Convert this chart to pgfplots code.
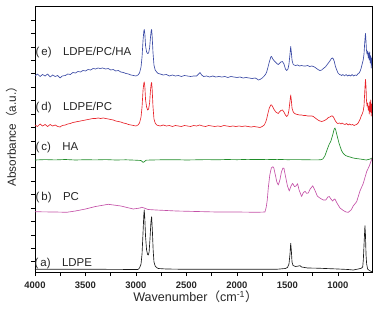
\documentclass[border=0pt]{standalone}
\usepackage{fontspec}
\setmainfont{Liberation Sans}
\newfontfamily\cjk{Noto Sans CJK SC}
\usepackage{pgfplots}
\pgfplotsset{compat=1.18}
\definecolor{cE}{RGB}{58,74,165}
\definecolor{cD}{RGB}{232,35,42}
\definecolor{cC}{RGB}{30,140,40}
\definecolor{cB}{RGB}{196,82,168}
\definecolor{cA}{RGB}{26,26,26}
\begin{document}
\begin{tikzpicture}[x=1bp,y=1bp]
\path[use as bounding box] (0,0) rectangle (379,310);
\begin{axis}[
  at={(35bp,38bp)}, anchor=south west,
  width=337bp, height=265.3bp, scale only axis,
  xmin=663, xmax=4000, x dir=reverse,
  ymin=0, ymax=265.3,
  xtick={1000,1500,...,4000}, minor xtick={750,1250,...,3750},
  ytick={10.3,23.73,...,255}, yticklabels={},
  tick align=outside, tick pos=left,
  major tick length=4bp, minor tick length=4bp,
  axis line style={line width=0.6bp, black},
  every tick/.style={line width=0.6bp, black},
  /pgf/number format/assume math mode=true,
  /pgf/number format/1000 sep={},
  xticklabel style={font=\fontsize{9.5}{10}\selectfont\bfseries, text=black!85, anchor=base, yshift=-12.8bp},
  xlabel={Wavenumber{\cjk （}cm\textsuperscript{-1}{\cjk ）}},
  ylabel={Absorbance{\cjk （}a.u.{\cjk ）}},
  xlabel style={at={(axis description cs:0.4763,-0.1112)}, anchor=base, font=\fontsize{12.6}{13}\selectfont, text=black!85},
  ylabel style={at={(axis description cs:-0.0564,0.309)}, anchor=base west, rotate=0, font=\fontsize{11.8}{12}\selectfont, text=black!85},
  every axis plot/.append style={line width=0.65bp, line join=round},
]
% (e) LDPE/PC/HA
\addplot[cE] coordinates {
(4000,196)(3975,198)(3950,195.5)(3925,197.5)(3900,196)(3875,198)(3850,195)(3825,197)(3800,195.5)(3775,196.5)(3752,194)(3730,196)(3700,196.5)(3675,198)(3650,197.5)(3625,199.5)(3600,199)(3575,200.5)(3550,200)(3525,201.5)(3500,201)(3475,202.5)(3450,202)(3425,203.5)(3400,203)(3375,204)(3356,203.5)(3330,204)(3300,203)(3275,203.5)(3250,202)(3225,202.5)(3200,201)(3175,201.5)(3150,200)(3125,199.5)(3100,198.5)(3075,198)(3050,197)(3025,196.5)(3000,196)(2980,197)(2965,199)(2950,205)(2940,215)(2930,232)(2922,241)(2918,242.5)(2912,238)(2905,226)(2895,220)(2885,218.5)(2875,219)(2865,224)(2857,234)(2850,241)(2845,242.5)(2840,236)(2832,220)(2822,207)(2810,202)(2795,200)(2780,198.5)(2760,198)(2730,197)(2700,197.5)(2670,196)(2640,197)(2610,196)(2580,196.5)(2550,195.5)(2520,196.5)(2490,196)(2460,195.5)(2430,196)(2400,196)(2380,198)(2366,199.5)(2350,197)(2330,195.5)(2300,196)(2270,195)(2240,196)(2210,195)(2180,195.5)(2150,195)(2120,195.5)(2090,194.5)(2060,195.5)(2030,195)(2000,194.5)(1970,195)(1940,194)(1910,194.5)(1880,194)(1850,193.5)(1820,194)(1800,193)(1789,192)(1772,192.5)(1750,194)(1730,196)(1715,198)(1706,200)(1695,204)(1680,210)(1665,215)(1657,215.5)(1645,213)(1630,211)(1615,209.5)(1600,208)(1591,207.5)(1580,208.5)(1565,210)(1550,210.5)(1535,208)(1520,203)(1508,201.5)(1495,203)(1485,208)(1475,218)(1468,225.5)(1462,220)(1455,212)(1445,208)(1435,207)(1420,206.5)(1400,207)(1380,206)(1360,206.5)(1340,206)(1320,206)(1300,206.5)(1280,205.5)(1260,206)(1244,205.5)(1225,204.5)(1205,203)(1190,202)(1178,201.5)(1161,202)(1145,203.5)(1125,205)(1110,207)(1095,209)(1080,211)(1065,213.5)(1055,214)(1045,213)(1035,210)(1025,205.5)(1010,201.5)(1000,199)(985,197.5)(970,197)(963,196.5)(950,197.5)(935,196)(920,197.5)(905,196)(890,197)(875,196)(860,197.5)(845,196)(830,197)(815,196.5)(800,198.5)(790,199)(780,201)(770,204)(760,208)(750,212)(742,218)(736,228)(730,236)(727,238.5)(722,230)(718,222)(712,218)(706,221)(700,214)(695,219)(690,212)(685,220)(680,209)(675,216)(670,204)(665,214)(663,210)
};
% (d) LDPE/PC
\addplot[cD] coordinates {
(4000,147)(3975,145.5)(3950,148)(3925,146)(3900,147.5)(3875,145.5)(3850,147.5)(3825,146)(3800,147)(3775,145.5)(3752,145)(3730,146.5)(3700,147)(3675,148)(3650,148.5)(3625,149.5)(3600,150)(3575,150.5)(3550,151)(3525,151.5)(3500,152)(3475,152.5)(3450,153)(3425,153.5)(3400,153.5)(3375,154)(3350,153.5)(3325,154)(3300,153.5)(3275,153)(3250,152.5)(3225,152)(3200,151)(3175,150.5)(3150,150)(3125,149)(3100,148.5)(3075,147.5)(3050,147)(3025,146.5)(3000,146)(2980,147)(2965,149)(2950,155)(2940,165)(2930,182)(2922,189)(2918,190)(2912,185)(2905,172)(2895,165)(2885,162)(2875,163)(2865,169)(2857,181)(2850,188)(2845,189.5)(2840,183)(2832,166)(2822,153)(2810,149)(2795,147)(2780,146.5)(2760,146)(2730,147)(2700,146)(2670,146.5)(2640,145.5)(2610,146.5)(2580,146)(2550,145.5)(2520,146.5)(2490,146)(2460,145.5)(2430,146.5)(2400,146)(2370,147)(2340,146)(2310,145.5)(2280,146.5)(2250,146)(2220,145.5)(2190,146)(2160,145.5)(2130,146.5)(2100,146)(2070,145.5)(2040,146)(2010,145.5)(1980,146)(1950,145.5)(1920,146)(1890,145.5)(1860,145)(1830,145.5)(1800,145)(1772,144.5)(1750,145.5)(1730,147)(1715,150)(1706,153)(1695,158)(1680,164)(1665,167)(1657,167)(1645,165)(1630,162)(1615,160)(1600,159)(1591,158.5)(1580,160)(1565,161.5)(1550,162)(1535,160)(1520,157)(1508,155.5)(1495,157)(1485,162)(1475,171)(1468,177)(1462,172)(1455,164)(1445,160.5)(1435,159)(1420,158)(1400,157.5)(1380,157)(1360,157)(1340,156.5)(1320,156.5)(1300,156)(1280,156)(1260,156)(1244,155.5)(1225,154)(1205,152.5)(1190,151.5)(1178,151)(1161,150.5)(1145,151)(1125,152)(1110,153)(1095,154.5)(1080,155)(1065,156)(1055,156)(1045,155)(1035,153)(1025,151)(1010,149)(1000,148.5)(985,149)(970,148)(960,149)(945,148)(930,147.5)(915,148.5)(900,147)(885,148)(870,147)(855,147.5)(840,146.5)(830,147)(815,147.5)(800,149)(790,151)(780,153)(770,156)(760,158)(750,161)(742,166)(736,178)(730,189)(727,192.5)(722,185)(718,172)(712,166)(706,169)(700,162)(695,166)(690,158)(685,170)(680,160)(675,172)(670,156)(665,168)(663,160)
};
% (c) HA
\addplot[cC] coordinates {
(4000,112)(3900,112.4)(3800,112.1)(3700,112.5)(3600,112)(3500,112.3)(3400,112.1)(3300,112.4)(3200,112)(3100,112.2)(3000,111.8)(2950,111.5)(2935,110)(2927,109.7)(2915,110.5)(2900,111.8)(2850,112)(2750,112.2)(2600,112.3)(2500,112)(2400,112.2)(2300,112.4)(2200,112.2)(2100,112.5)(2000,112.3)(1900,112.6)(1800,112.5)(1700,112.4)(1600,112.6)(1500,112.3)(1400,112.4)(1300,112.2)(1200,112.1)(1170,112.3)(1150,113)(1130,116)(1112,121)(1090,127)(1070,131)(1055,136)(1045,140)(1037,143)(1030,144)(1022,142)(1013,138)(1000,133)(990,129)(980,126)(965,121.5)(947,118.5)(925,116.5)(900,115.5)(881,115)(850,114)(820,113.5)(782,113)(750,112.5)(720,112)(700,112.5)(680,113)(663,114)
};
% (b) PC
\addplot[cB] coordinates {
(4000,60.3)(3900,60.1)(3800,60)(3686,59.7)(3600,61)(3500,63)(3400,65.5)(3274,67.7)(3150,66)(3027,63)(2960,64)(2944,64.7)(2920,64)(2880,62.5)(2800,62)(2600,61)(2400,60.5)(2200,60)(2000,60)(1800,59.7)(1723,60)(1710,65)(1700,72)(1690,84)(1675,97)(1660,104)(1645,105.3)(1635,104)(1620,97)(1605,90)(1591,87)(1575,92)(1560,100)(1545,104)(1535,103.7)(1520,96)(1500,86)(1482,81)(1465,86)(1449,88.7)(1430,85.3)(1416,86)(1400,88.3)(1385,82)(1360,75.5)(1345,79)(1327,80.7)(1310,78.7)(1294,79)(1275,83)(1250,86.2)(1225,81)(1205,76)(1180,74)(1146,72)(1120,72)(1100,75)(1086,75.5)(1070,73)(1053,71)(1040,72.5)(1030,73)(1010,69)(980,64)(947,61.5)(920,60)(898,59.7)(870,62)(849,66)(815,70.3)(782,81)(749,88.7)(716,100.3)(690,106)(663,113.5)
};
% (a) LDPE
\addplot[cA] coordinates {
(4000,2.7)(3500,2.8)(3000,2.5)(2980,2.5)(2965,4)(2950,8)(2940,18)(2930,40)(2922,58)(2918,62)(2912,52)(2905,35)(2895,22)(2885,17.5)(2878,17)(2870,20)(2862,32)(2852,50)(2845,55.3)(2838,42)(2830,22)(2822,10)(2810,6)(2795,4.3)(2779,3.5)(2700,3)(2500,2.7)(2000,2.7)(1600,2.8)(1520,3.5)(1500,4.5)(1485,8)(1475,18)(1468,28.7)(1462,22)(1455,10)(1445,6.5)(1420,5.5)(1400,5.8)(1376,6.3)(1360,5)(1300,4)(1200,3.8)(1000,3)(900,2.5)(849,2)(800,3)(770,3.7)(755,5)(749,12)(743,25)(736,40)(733,46.3)(728,38)(722,17)(716,8)(706,3)(690,1.5)(670,0.5)(663,0)
};
\end{axis}
\begin{scope}[every node/.style={anchor=base west, inner sep=0pt, font=\fontsize{11.5}{12}\selectfont, text=black!85}]
\node at (35.5,255) {(\,e)\quad LDPE/PC/HA};
\node at (35.5,200) {(\,d)\quad LDPE/PC};
\node at (35.5,159.3) {(\,c)\quad HA};
\node at (35.5,110) {(\,b)\quad PC};
\node at (34.5,43.3) {(\,a)\quad LDPE};
\end{scope}
\end{tikzpicture}
\end{document}
